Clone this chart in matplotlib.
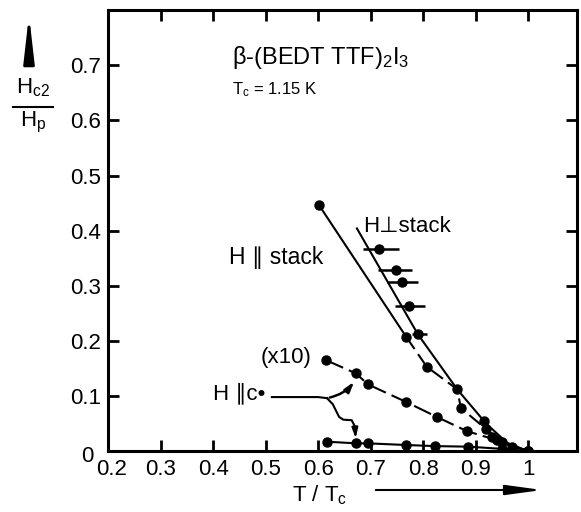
import matplotlib
matplotlib.use("Agg")
import matplotlib.pyplot as plt
from matplotlib.lines import Line2D
from matplotlib.transforms import ScaledTranslation

plt.rcParams['font.family'] = ['Liberation Sans', 'DejaVu Sans']
plt.rcParams['mathtext.fontset'] = 'custom'
plt.rcParams['mathtext.rm'] = 'Liberation Sans'
plt.rcParams['mathtext.it'] = 'Liberation Sans'

# ---- data (T/Tc, Hc2/Hp) ----
par_stack_x = [0.602, 0.768, 0.807, 0.865, 0.872, 0.920, 0.950, 1.0]
par_stack_y = [0.446, 0.207, 0.153, 0.112, 0.078, 0.040, 0.016, 0.0]

perp_x = [0.716, 0.749, 0.760, 0.773, 0.790, 0.916, 0.931]
perp_y = [0.366, 0.328, 0.306, 0.263, 0.212, 0.054, 0.026]
perp_xerr_lo = [0.030, 0.035, 0.029, 0.026, 0.011, 0.0, 0.0]
perp_xerr_hi = [0.038, 0.030, 0.030, 0.031, 0.018, 0.0, 0.0]
perp_curve_x = [0.674, 0.790, 0.865, 0.920, 0.960, 1.0]
perp_curve_y = [0.404, 0.212, 0.112, 0.050, 0.015, 0.0]

x10_x = [0.615, 0.672, 0.695, 0.768, 0.826, 0.884, 0.940, 0.970, 1.0]
x10_y = [0.165, 0.141, 0.121, 0.089, 0.062, 0.036, 0.020, 0.008, 0.0]

parc_x = [0.617, 0.673, 0.695, 0.768, 0.823, 0.886, 0.950, 1.0]
parc_y = [0.017, 0.014, 0.014, 0.011, 0.009, 0.008, 0.004, 0.0]

# hand-drawn brace linking the "H || c*" label to the two curves
brace_x = [0.512, 0.600, 0.617]
brace_y = [0.098, 0.098, 0.096]
brace_up_x = [0.617, 0.640, 0.660]
brace_up_y = [0.096, 0.108, 0.122]
brace_dn_x = [0.617, 0.628, 0.640, 0.648, 0.664, 0.670]
brace_dn_y = [0.096, 0.085, 0.062, 0.057, 0.056, 0.045]

xticks = [0.2, 0.3, 0.4, 0.5, 0.6, 0.7, 0.8, 0.9, 1.0]
xtick_labels = ["0.2", "0.3", "0.4", "0.5", "0.6", "0.7", "0.8", "0.9", "1"]
yticks = [0, 0.1, 0.2, 0.3, 0.4, 0.5, 0.6, 0.7]
ytick_labels = ["0", "0.1", "0.2", "0.3", "0.4", "0.5", "0.6", "0.7"]

fig = plt.figure(figsize=(5.81, 5.12), dpi=100)
ax = fig.add_axes([0.186, 0.119, 0.807, 0.861])
ax.set_xlim(0.2, 1.093)
ax.set_ylim(0, 0.8)

lw = 1.5
ms = 6.5
# H || stack: solid to 0.768, dashed after
ax.plot(par_stack_x[:2], par_stack_y[:2], '-', color='k', lw=lw)
ax.plot(par_stack_x[1:], par_stack_y[1:], color='k', lw=lw, dashes=(7, 3))
ax.plot(par_stack_x, par_stack_y, 'o', color='k', ms=ms)

# H perp stack
ax.plot(perp_curve_x, perp_curve_y, '-', color='k', lw=lw)
ax.errorbar(perp_x, perp_y, xerr=[perp_xerr_lo, perp_xerr_hi], fmt='o', color='k',
            ms=ms, elinewidth=1.8, capsize=0)

# (x10)
ax.plot(x10_x, x10_y, 'o', color='k', ms=ms, lw=lw, dashes=(9, 3), linestyle='--')

# H || c*
ax.plot(parc_x, parc_y, 'o-', color='k', ms=ms, lw=lw)

# brace
ax.plot(brace_x, brace_y, '-', color='k', lw=1.5)
ax.plot(brace_dn_x, brace_dn_y, '-', color='k', lw=1.5)
ax.annotate('', xy=(brace_up_x[-1] + 0.012, brace_up_y[-1] + 0.008),
            xytext=(brace_up_x[0], brace_up_y[0]),
            arrowprops=dict(arrowstyle='-|>,head_length=0.5,head_width=0.15', color='k', lw=1.8,
                            connectionstyle='arc3,rad=0.2', mutation_scale=12))
ax.annotate('', xy=(brace_dn_x[-1] + 0.002, parc_y[1] + 0.004),
            xytext=(brace_dn_x[-1], brace_dn_y[-1]),
            arrowprops=dict(arrowstyle='-|>,head_length=0.5,head_width=0.15', color='k', lw=1.5,
                            mutation_scale=12))

# axes style
for s in ax.spines.values():
    s.set_linewidth(2.2)
ax.set_xticks(xticks)
ax.set_xticklabels(xtick_labels)
ax.set_yticks(yticks)
ax.set_yticklabels(ytick_labels)
ax.tick_params(direction='in', length=8, width=2, top=True, right=True,
               labelsize=16, pad=5)
ax.tick_params(axis='x', pad=6)
# shift the y "0" label to the left/down so it sits beside "0.2"
lab0 = ax.get_yticklabels()[0]
lab0.set_transform(lab0.get_transform() + ScaledTranslation(-8 / 100, -3 / 100, fig.dpi_scale_trans))
labx = ax.get_xticklabels()[0]
labx.set_transform(labx.get_transform() + ScaledTranslation(3 / 100, 0, fig.dpi_scale_trans))

# texts
ax.text(0.436, 0.715, r'β-(BEDT TTF)$_2$I$_3$', fontsize=17, va='center', ha='left')
ax.text(0.436, 0.656, r'T$_c$ = 1.15 K', fontsize=12, va='center', ha='left')
ax.text(0.43, 0.352, 'H ∥ stack', fontsize=16.5, va='center', ha='left')
ax.text(0.685, 0.408, 'H⊥stack', fontsize=16, va='center', ha='left')
ax.text(0.49, 0.169, '(x10)', fontsize=16, va='center', ha='left')
ax.text(0.40, 0.104, 'H ∥c•', fontsize=16, va='center', ha='left')

# y label as fraction with arrow
fig.text(33 / 581, 1 - 88 / 512, r'H$_{c2}$', fontsize=16, ha='center', va='center')
fig.text(33 / 581, 1 - 122 / 512, r'H$_p$', fontsize=16, ha='center', va='center')
fig.add_artist(Line2D([13 / 581, 53 / 581], [1 - 107 / 512, 1 - 107 / 512],
                      color='k', lw=1.5, transform=fig.transFigure))
fig.add_artist(matplotlib.patches.FancyArrowPatch(
    (29 / 581, 1 - 63 / 512), (29 / 581, 1 - 12 / 512), transform=fig.transFigure,
    arrowstyle='-|>,head_length=1.4,head_width=0.16', mutation_scale=20, color='k', lw=2))

# x label with arrow
fig.text(320 / 581, 1 - 495 / 512, r'T / T$_c$', fontsize=16, ha='center', va='center')
fig.add_artist(matplotlib.patches.FancyArrowPatch(
    (373 / 581, 1 - 490 / 512), (545 / 581, 1 - 490 / 512), transform=fig.transFigure,
    arrowstyle='-|>,head_length=1.1,head_width=0.15', mutation_scale=20, color='k', lw=1.5))

fig.savefig('out.png', dpi=100)
